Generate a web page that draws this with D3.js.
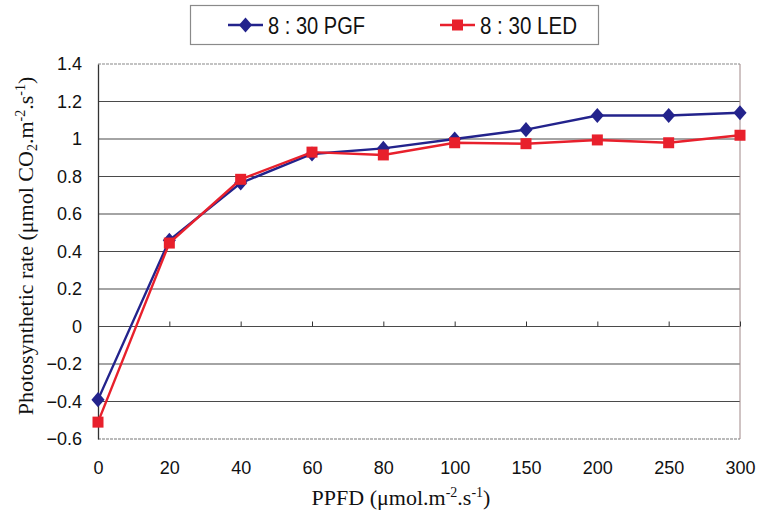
<!DOCTYPE html>
<html><head><meta charset="utf-8">
<script src="https://cdn.jsdelivr.net/npm/d3@7"></script>
<style>body{margin:0;background:#fff}</style>
</head><body>
<svg id="chart" width="757" height="516"></svg>
<script>
const categories = ["0","20","40","60","80","100","150","200","250","300"];
const pgf = [-0.39, 0.46, 0.765, 0.92, 0.95, 1.0, 1.05, 1.125, 1.125, 1.14];
const led = [-0.51, 0.445, 0.785, 0.93, 0.915, 0.98, 0.975, 0.995, 0.98, 1.02];
const yTicks = [1.4, 1.2, 1, 0.8, 0.6, 0.4, 0.2, 0, -0.2, -0.4, -0.6];
const seriesNames = ["8 : 30 PGF", "8 : 30 LED"];
const colors = ["#23238c", "#e8202c"];

const svg = d3.select("#chart");
const L = 98, R = 740, T = 64, B = 439;
const x = d3.scalePoint().domain(categories).range([L, R]).padding(0);
const y = d3.scaleLinear().domain([-0.6, 1.4]).range([B, T]);

// gridlines
svg.append("g").selectAll("line").data(yTicks.filter(v => v > -0.6 && v < 1.4)).join("line")
  .attr("x1", L).attr("x2", R).attr("y1", d => y(d)).attr("y2", d => y(d))
  .attr("stroke", "#4a4a4a").attr("stroke-width", 1.2);
// frame top/bottom/right
svg.append("line").attr("x1", L).attr("x2", R).attr("y1", T).attr("y2", T)
  .attr("stroke", "#888").attr("stroke-width", 1.2).attr("stroke-dasharray", "3,1");
svg.append("line").attr("x1", L).attr("x2", R).attr("y1", B).attr("y2", B)
  .attr("stroke", "#777").attr("stroke-width", 1.2).attr("stroke-dasharray", "3,1");
svg.append("line").attr("x1", R).attr("x2", R).attr("y1", T).attr("y2", B)
  .attr("stroke", "#a08888").attr("stroke-width", 1);

// y axis
const yAxis = d3.axisLeft(y).tickValues(yTicks).tickSize(0).tickPadding(16)
  .tickFormat(d => d < 0 ? "\u2212" + Math.abs(d) : String(d));
const yg = svg.append("g").attr("transform", `translate(${L},0)`).call(yAxis);
yg.select(".domain").attr("stroke", "#333").attr("stroke-width", 1.3);
yg.selectAll("text").attr("font-family", "Liberation Sans, Arial, sans-serif")
  .attr("font-size", 18).attr("fill", "#111");

// x axis tick marks on zero line (upward)
const xAxisTicks = d3.axisTop(x).tickSize(5).tickFormat("");
const xg = svg.append("g").attr("transform", `translate(0,${y(0)})`).call(xAxisTicks);
xg.select(".domain").remove();
xg.selectAll("line").attr("stroke", "#333");
// x tick labels
const xl = d3.axisBottom(x).tickSize(0).tickPadding(22);
const xlg = svg.append("g").attr("transform", `translate(0,${B})`).call(xl);
xlg.select(".domain").remove();
xlg.selectAll("text").attr("font-family", "Liberation Sans, Arial, sans-serif")
  .attr("font-size", 18).attr("fill", "#111");

// lines
const line = d3.line().x((d, i) => x(categories[i])).y(d => y(d));
[pgf, led].forEach((s, k) => {
  svg.append("path").datum(s).attr("d", line).attr("fill", "none")
    .attr("stroke", colors[k]).attr("stroke-width", 2.4);
  if (k === 0) {
    svg.append("g").selectAll("path").data(s).join("path")
      .attr("d", d3.symbol(d3.symbolDiamond2, 110))
      .attr("transform", (d, i) => `translate(${x(categories[i])},${y(d)}) scale(1,1.15)`)
      .attr("fill", colors[k]);
  } else {
    svg.append("g").selectAll("rect").data(s).join("rect")
      .attr("x", (d, i) => x(categories[i]) - 5.5).attr("y", d => y(d) - 5.5)
      .attr("width", 11).attr("height", 11).attr("fill", colors[k]);
  }
});

// axis titles
const yt = svg.append("text").attr("transform", "translate(33,246) rotate(-90)")
  .attr("text-anchor", "middle").attr("font-family", "Liberation Serif, Times New Roman, serif")
  .attr("font-size", 22).attr("fill", "#111");
yt.append("tspan").text("Photosynthetic rate (\u03BCmol CO");
yt.append("tspan").attr("font-size", 14).attr("dy", 4).text("2");
yt.append("tspan").attr("dy", -4).text(".m");
yt.append("tspan").attr("font-size", 14).attr("dy", -8).text("-2");
yt.append("tspan").attr("dy", 8).text(".s");
yt.append("tspan").attr("font-size", 14).attr("dy", -8).text("-1");
yt.append("tspan").attr("dy", 8).text(")");

const xt = svg.append("text").attr("x", 401).attr("y", 505)
  .attr("text-anchor", "middle").attr("font-family", "Liberation Serif, Times New Roman, serif")
  .attr("font-size", 22).attr("fill", "#111");
xt.append("tspan").text("PPFD (\u03BCmol.m");
xt.append("tspan").attr("font-size", 14).attr("dy", -8).text("-2");
xt.append("tspan").attr("dy", 8).text(".s");
xt.append("tspan").attr("font-size", 14).attr("dy", -8).text("-1");
xt.append("tspan").attr("dy", 8).text(")");

// legend
svg.append("rect").attr("x", 190.5).attr("y", 5.5).attr("width", 408).attr("height", 39)
  .attr("fill", "#fff").attr("stroke", "#8a8a8a").attr("stroke-width", 1.2);
const legX = [228, 440];
seriesNames.forEach((n, k) => {
  const g = svg.append("g").attr("transform", `translate(${legX[k]},25)`);
  g.append("line").attr("x1", 0).attr("x2", 35).attr("stroke", colors[k]).attr("stroke-width", 2.4);
  if (k === 0) g.append("path").attr("d", d3.symbol(d3.symbolDiamond2, 110)).attr("transform", "translate(17.5,0) scale(1,1.15)").attr("fill", colors[k]);
  else g.append("rect").attr("x", 12).attr("y", -5.5).attr("width", 11).attr("height", 11).attr("fill", colors[k]);
  g.append("text").attr("x", 40).attr("y", 8.5).attr("font-family", "Liberation Sans, Arial, sans-serif")
    .attr("font-size", 23).attr("fill", "#111").attr("textLength", 97).attr("lengthAdjust", "spacingAndGlyphs").text(n);
});
</script>
</body></html>
